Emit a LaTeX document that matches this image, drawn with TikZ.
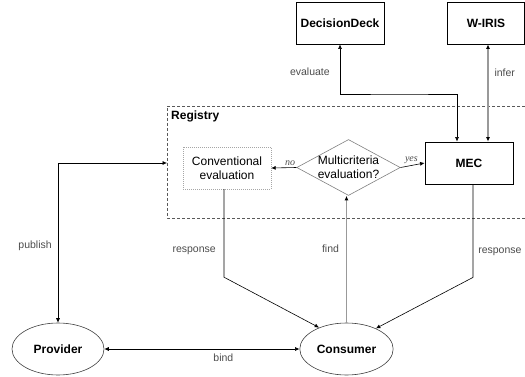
\documentclass[tikz,border=0pt]{standalone}
\usepackage{fontspec}
\setmainfont{Liberation Sans}
\newfontfamily\choicefont{Liberation Serif}
\usetikzlibrary{shapes.geometric,arrows.meta,positioning}
\tikzset{box node/.style={rectangle,draw,line width=0.8pt,minimum width=88pt,minimum height=42pt,inner sep=2pt,font=\fontsize{12}{14}\selectfont\bfseries},
         plain box/.style={rectangle,draw=black!35,dash pattern=on 1pt off 1pt,minimum width=88pt,minimum height=42pt,inner sep=2pt,align=center,font=\fontsize{12}{14}\selectfont},
         choice node/.style={diamond,draw=black!50,line width=0.6pt,aspect=1.85,inner sep=0pt,align=center,font=\fontsize{12}{14}\selectfont},
         end node/.style={ellipse,draw=black!75,line width=0.6pt,minimum width=92pt,minimum height=52pt,font=\fontsize{12}{14}\selectfont\bfseries},
         edge label/.style={rectangle,draw=none,fill=none,text=black!70,inner sep=0pt,font=\fontsize{10.5}{12}\selectfont},
         choice label/.style={edge label,font=\choicefont\itshape\fontsize{10}{11}\selectfont},
         tip/.tip={Latex[length=4.5pt,width=4pt,color=black]},
         flow/.style={line width=0.6pt,-tip},
         both flow/.style={line width=0.6pt,tip-tip},
         gray flow/.style={draw=black!40,line width=1.1pt},
}
\begin{document}
\begin{tikzpicture}[x=1pt,y=-1pt]
\useasboundingbox (0,0) rectangle (525,377);
% \draw[help lines,step=25] (0,0) grid (525,377);

% registry frame, open to the right
\draw[black!65,line width=0.7pt,dash pattern=on 3pt off 2pt] (525,106) -| (167,218) -- (525,218);
\node[edge label,text=black,anchor=west,font=\fontsize{12}{14}\selectfont\bfseries] (reg) at (171,116) {Registry};
\coordinate (regw) at (167,163);

\node[box node] (dd) at (340,23) {DecisionDeck};
\node[box node,minimum width=77pt] (wiris) at (486,23) {W-IRIS};
\node[plain box] (conv) at (227,168) {Conventional\\evaluation};
\node[choice node] (mcq) at (348.5,167.5) {Multicriteria\\evaluation?};
\node[box node] (mec) at (469,163) {MEC};
\node[end node] (provider) at (58,349) {Provider};
\node[end node,minimum width=93pt] (consumer) at (346.5,349) {Consumer};

\draw[flow] (mcq.west) -- node[choice label,above=2pt,pos=0.25] {no} (conv.east);
\draw[flow] (mcq.east) -- node[choice label,above=2pt,pos=0.45] {yes} (mec.west);

\draw[both flow] (dd.south) |- node[edge label,left=10pt,pos=0.28] {evaluate} (400,94) -| ([xshift=-12pt]mec.north);
\draw[both flow,gray flow] ([xshift=2pt]wiris.south) -- node[edge label,right=6pt,pos=0.29] {infer} ([xshift=2pt]wiris.south |- mec.north);

\draw[both flow] (provider.north) |- node[edge label,left=6pt,pos=0.24] {publish} (regw);
\draw[both flow] (provider.east) -- node[edge label,below=5pt,pos=0.61] {bind} (consumer.west);

\draw[flow] ([xshift=-3pt]conv.south) -- node[edge label,left=8pt,pos=0.7] {response} ++(0,88) -- (consumer.142);
\draw[flow,gray flow] (consumer.north) -- node[edge label,left=7pt,pos=0.58] {find} (consumer.north |- mcq.south);
\draw[flow] ([xshift=4pt]mec.south) -- node[edge label,right=5pt,pos=0.72] {response} ++(0,93) -- (consumer.35);

\end{tikzpicture}
\end{document}
